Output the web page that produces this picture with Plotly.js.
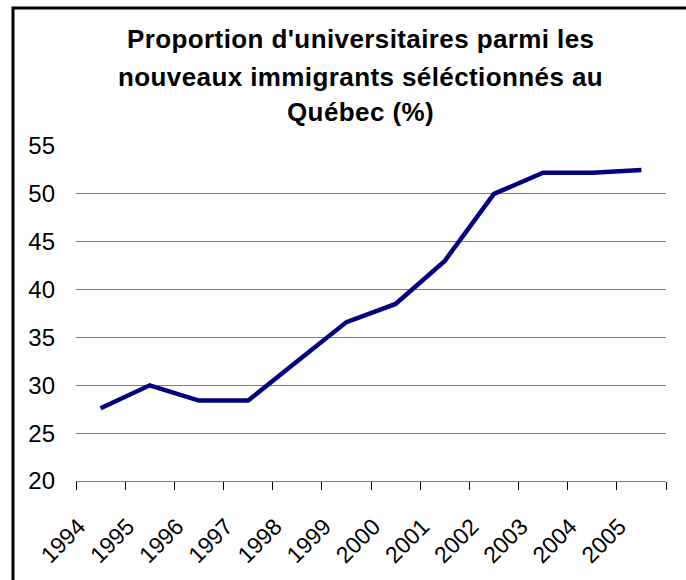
<!DOCTYPE html>
<html>
<head>
<meta charset="utf-8">
<script src="https://cdn.plot.ly/plotly-3.0.1.min.js"></script>
<style>
  body { margin: 0; background: #fff; }
  #plot { width: 686px; height: 580px; }
  .annotation-text { letter-spacing: 0.4px; }
</style>
</head>
<body>
<div id="plot"></div>
<script>
// data
const years = ['1994', '1995', '1996', '1997', '1998', '1999', '2000', '2001', '2002', '2003', '2004', '2005']
const share = [27.6, 30.0, 28.4, 28.4, 32.5, 36.6, 38.5, 43.0, 50.0, 52.2, 52.2, 52.5]
const titleLines = [
    "Proportion d'universitaires parmi les",
    'nouveaux immigrants séléctionnés au',
    'Québec (%)'
]
const titleY = [1.32, 1.205, 1.10]

const font = '"Liberation Sans", Arial, sans-serif'

const trace = {
    x: years,
    y: share,
    type: 'scatter',
    mode: 'lines',
    line: { color: '#000080', width: 4.5 },
    hoverinfo: 'x+y',
}

// one annotation per title line so the line spacing can match
const annotations = titleLines.map((t, i) => ({
    text: '<b>' + t + '</b>',
    xref: 'paper', yref: 'paper',
    x: 0.483, y: titleY[i],
    xanchor: 'center', yanchor: 'middle',
    showarrow: false,
    font: { family: font, size: 26, color: '#000' },
}))

const layout = {
    width: 686,
    height: 580,
    margin: { l: 76, r: 20, t: 146, b: 99 },
    paper_bgcolor: '#fff',
    plot_bgcolor: '#fff',
    showlegend: false,
    font: { family: font, size: 20, color: '#000' },
    xaxis: {
        type: 'category',
        range: [-0.5, 11.5],
        tickangle: -45,
        tickson: 'boundaries',
        ticks: 'outside',
        ticklen: 8,
        tickcolor: '#000',
        showline: true,
        linecolor: '#808080',
        linewidth: 1,
        showgrid: false,
        ticklabelstandoff: 22,
        ticklabelshift: -22,
        tickfont: { family: font, size: 23, color: '#000' },
    },
    yaxis: {
        range: [20, 55],
        dtick: 5,
        showline: false,
        zeroline: false,
        gridcolor: '#808080',
        gridwidth: 1,
        ticks: '',
        ticklabelstandoff: 20,
        tickfont: { family: font, size: 24, color: '#000' },
    },
    annotations: annotations,
    shapes: [{
        type: 'rect',
        xref: 'paper', yref: 'paper',
        x0: -0.1068, x1: 1.2,
        y0: -0.5, y1: 1.412,
        line: { color: '#000', width: 3 },
        fillcolor: 'rgba(0,0,0,0)',
        layer: 'below',
    }],
}

Plotly.newPlot('plot', [trace], layout, { displayModeBar: false, staticPlot: true })
</script>
</body>
</html>
